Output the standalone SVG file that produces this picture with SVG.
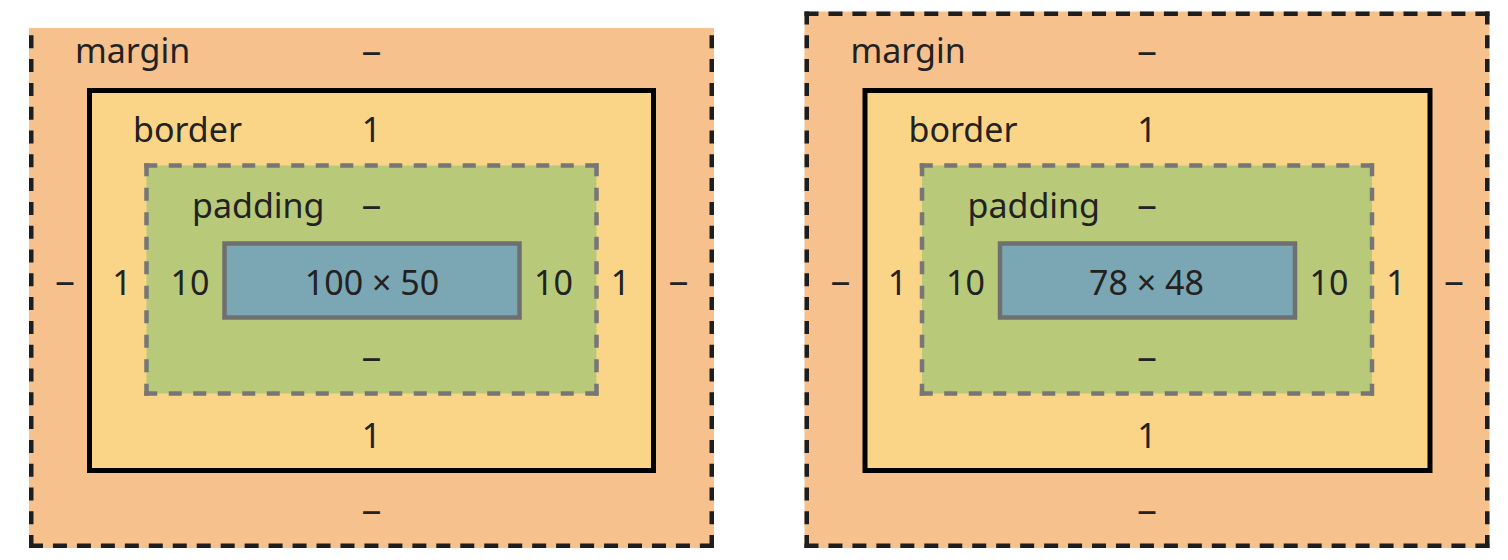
<svg xmlns="http://www.w3.org/2000/svg" width="1508" height="560" viewBox="0 0 1508 560">
<style>
  .margin-fill { fill: #f6c18c; }
  .margin-edge { stroke: #1e1e1e; stroke-width: 4.5; fill: none; }
  .mh { stroke-dasharray: 14 9.96; }
  .mv { stroke-dasharray: 13 10.8; }
  .border-box { fill: #fbd587; stroke: #000; stroke-width: 5; }
  .padding-fill { fill: #b8c97a; }
  .padding-edge { stroke: #767676; stroke-width: 4.5; fill: none; stroke-dasharray: 13 11.5; }
  .content-box { fill: #7ba6b3; stroke: #6f6f6f; stroke-width: 4.5; }
  text { font-family: "Noto Sans", "Open Sans", sans-serif; font-size: 34px; fill: #222; }
  .c { text-anchor: middle; }
</style>
<rect width="1508" height="560" fill="#ffffff"/>

<g id="left-panel">
  <g id="left-margin">
    <rect class="margin-fill" x="29" y="28" width="685" height="520"/>
    <line class="margin-edge mh" x1="29" y1="545.75" x2="714" y2="545.75"/>
    <line class="margin-edge mv" x1="31.25" y1="28" x2="31.25" y2="548" stroke-dashoffset="16.5"/>
    <line class="margin-edge mv" x1="711.75" y1="28" x2="711.75" y2="548" stroke-dashoffset="16.5"/>
    <text x="75" y="63">margin</text>
    <text class="c" x="371.5" y="62.5" textLength="20" lengthAdjust="spacingAndGlyphs">–</text>
    <text class="c" x="65" y="292.5" textLength="20" lengthAdjust="spacingAndGlyphs">–</text>
    <text class="c" x="678.5" y="292.5" textLength="20" lengthAdjust="spacingAndGlyphs">–</text>
    <text class="c" x="371.5" y="521.5" textLength="20" lengthAdjust="spacingAndGlyphs">–</text>
  </g>
  <g id="left-border">
    <rect class="border-box" x="89.5" y="90.5" width="564" height="380"/>
    <text x="133" y="142">border</text>
    <text class="c" x="371.5" y="142">1</text>
    <text class="c" x="122" y="295">1</text>
    <text class="c" x="620.5" y="295">1</text>
    <text class="c" x="371.5" y="448">1</text>
  </g>
  <g id="left-padding">
    <rect class="padding-fill" x="146.5" y="165.5" width="450" height="228"/>
    <line class="padding-edge" x1="144.25" y1="165.5" x2="598.75" y2="165.5"/>
    <line class="padding-edge" x1="144.25" y1="393.5" x2="598.75" y2="393.5"/>
    <line class="padding-edge" x1="146.5" y1="163.25" x2="146.5" y2="395.75"/>
    <line class="padding-edge" x1="596.5" y1="163.25" x2="596.5" y2="395.75"/>
    <text x="192" y="218">padding</text>
    <text class="c" x="371.5" y="216.5" textLength="20" lengthAdjust="spacingAndGlyphs">–</text>
    <text class="c" x="190" y="295">10</text>
    <text class="c" x="553.5" y="295">10</text>
    <text class="c" x="371.5" y="368.5" textLength="20" lengthAdjust="spacingAndGlyphs">–</text>
  </g>
  <g id="left-content">
    <rect class="content-box" x="224.5" y="243.5" width="295" height="74"/>
    <text class="c" x="372" y="295">100 × 50</text>
  </g>
</g>

<g id="right-panel" transform="translate(775.5 0)">
  <g id="right-margin">
    <rect class="margin-fill" x="29" y="11.5" width="685" height="536.5"/>
    <line class="margin-edge mh" x1="29" y1="13.75" x2="714" y2="13.75"/>
    <line class="margin-edge mh" x1="29" y1="545.75" x2="714" y2="545.75"/>
    <line class="margin-edge mv" x1="31.25" y1="11.5" x2="31.25" y2="548"/>
    <line class="margin-edge mv" x1="711.75" y1="11.5" x2="711.75" y2="548"/>
    <text x="75" y="63">margin</text>
    <text class="c" x="371.5" y="62.5" textLength="20" lengthAdjust="spacingAndGlyphs">–</text>
    <text class="c" x="65" y="292.5" textLength="20" lengthAdjust="spacingAndGlyphs">–</text>
    <text class="c" x="678.5" y="292.5" textLength="20" lengthAdjust="spacingAndGlyphs">–</text>
    <text class="c" x="371.5" y="521.5" textLength="20" lengthAdjust="spacingAndGlyphs">–</text>
  </g>
  <g id="right-border">
    <rect class="border-box" x="89.5" y="90.5" width="565" height="380"/>
    <text x="133" y="142">border</text>
    <text class="c" x="371.5" y="142">1</text>
    <text class="c" x="122" y="295">1</text>
    <text class="c" x="620.5" y="295">1</text>
    <text class="c" x="371.5" y="448">1</text>
  </g>
  <g id="right-padding">
    <rect class="padding-fill" x="146.5" y="165.5" width="450" height="228"/>
    <line class="padding-edge" x1="144.25" y1="165.5" x2="598.75" y2="165.5"/>
    <line class="padding-edge" x1="144.25" y1="393.5" x2="598.75" y2="393.5"/>
    <line class="padding-edge" x1="146.5" y1="163.25" x2="146.5" y2="395.75"/>
    <line class="padding-edge" x1="596.5" y1="163.25" x2="596.5" y2="395.75"/>
    <text x="192" y="218">padding</text>
    <text class="c" x="371.5" y="216.5" textLength="20" lengthAdjust="spacingAndGlyphs">–</text>
    <text class="c" x="190" y="295">10</text>
    <text class="c" x="553.5" y="295">10</text>
    <text class="c" x="371.5" y="368.5" textLength="20" lengthAdjust="spacingAndGlyphs">–</text>
  </g>
  <g id="right-content">
    <rect class="content-box" x="224.5" y="243.5" width="295" height="74"/>
    <text class="c" x="371" y="295">78 × 48</text>
  </g>
</g>
</svg>
